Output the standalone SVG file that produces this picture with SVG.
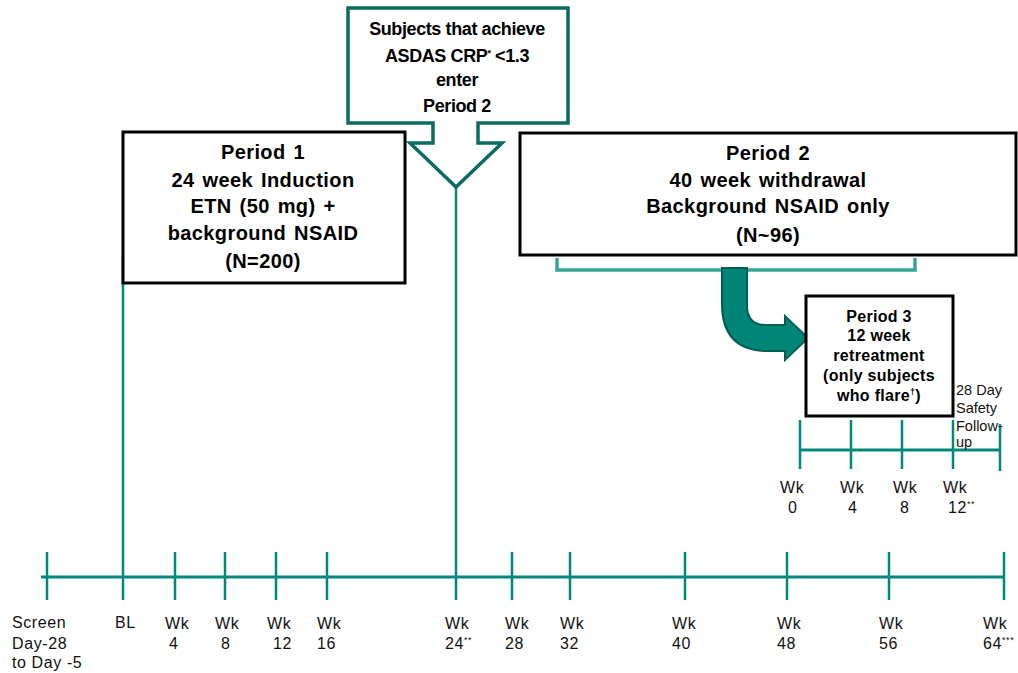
<svg xmlns="http://www.w3.org/2000/svg" width="1018" height="673" viewBox="0 0 1018 673">
<style>
.bx{fill:#fff;stroke:#000;stroke-width:3}
.bt{font-family:"Liberation Sans",Arial,sans-serif;font-weight:bold;fill:#000;text-anchor:middle}
.big{font-size:20px;letter-spacing:0.4px;word-spacing:2px}
.mid{font-size:18px;letter-spacing:-0.4px}
.sm{font-size:16px;letter-spacing:0.3px}
.lb{font-family:"Liberation Sans",Arial,sans-serif;font-size:16px;fill:#111;letter-spacing:0.6px}
.fl{font-family:"Liberation Sans",Arial,sans-serif;font-size:14.5px;fill:#111}
.ax{stroke:#00887A;stroke-width:3;fill:none}
.tk{stroke:#00887A;stroke-width:2.5;fill:none}
.sup{font-size:9px}
</style>
<rect width="1018" height="673" fill="#fff"/>
<g id="connectors">
  <line class="ax" x1="41" y1="577" x2="1005" y2="577"/>
  <g class="tk">
    <line x1="47" y1="552" x2="47" y2="600"/>
    <line x1="123" y1="255" x2="123" y2="600"/>
    <line x1="175" y1="552" x2="175" y2="600"/>
    <line x1="225" y1="552" x2="225" y2="600"/>
    <line x1="276" y1="552" x2="276" y2="600"/>
    <line x1="327" y1="552" x2="327" y2="600"/>
    <line x1="456" y1="186" x2="456" y2="600"/>
    <line x1="512" y1="552" x2="512" y2="600"/>
    <line x1="570" y1="552" x2="570" y2="600"/>
    <line x1="685" y1="552" x2="685" y2="600"/>
    <line x1="787" y1="552" x2="787" y2="600"/>
    <line x1="889" y1="552" x2="889" y2="600"/>
    <line x1="1004" y1="552" x2="1004" y2="600"/>
  </g>
  <line class="ax" x1="800" y1="450" x2="1001" y2="450"/>
  <g class="tk">
    <line x1="800" y1="420" x2="800" y2="469"/>
    <line x1="851" y1="420" x2="851" y2="469"/>
    <line x1="902" y1="420" x2="902" y2="469"/>
    <line x1="953" y1="420" x2="953" y2="469"/>
    <line x1="1000" y1="424" x2="1000" y2="471"/>
  </g>
  <path d="M557 258 L557 270 L915 270 L915 258" fill="none" stroke="#36A596" stroke-width="3.5"/>
  <path d="M722 268 L747 268 L747 306 Q747 325 766 325 L785 325 L785 316 L808 338 L785 360 L785 351 L768 351 Q722 351 722 304 Z" fill="#008577" stroke="#005F55" stroke-width="2"/>
</g>
<g id="callout">
  <path d="M348 8 L568 8 L568 123 L478 123 L478 143 L502 143 L456 187 L410 143 L433 143 L433 123 L348 123 Z" fill="#fff" stroke="#0A6B5F" stroke-width="3.5" stroke-linejoin="miter"/>
  <text class="bt mid" x="457" y="35">Subjects that achieve</text>
  <text class="bt mid" x="457" y="62">ASDAS CRP<tspan class="sup" dy="-6">*</tspan><tspan dy="6"> &lt;1.3</tspan></text>
  <text class="bt mid" x="457" y="86">enter</text>
  <text class="bt mid" x="457" y="112">Period 2</text>
</g>
<g id="period1">
  <rect class="bx" x="123" y="132" width="282" height="151"/>
  <text class="bt big" x="263" y="159">Period 1</text>
  <text class="bt big" x="263" y="187">24 week Induction</text>
  <text class="bt big" x="263" y="213">ETN (50 mg) +</text>
  <text class="bt big" x="263" y="240">background NSAID</text>
  <text class="bt big" x="263" y="268">(N=200)</text>
</g>
<g id="period2">
  <rect class="bx" x="520" y="133" width="496" height="122"/>
  <text class="bt big" x="768" y="160">Period 2</text>
  <text class="bt big" x="768" y="187">40 week withdrawal</text>
  <text class="bt big" x="768" y="213">Background NSAID only</text>
  <text class="bt big" x="768" y="242">(N~96)</text>
</g>
<g id="period3">
  <rect class="bx" x="806" y="296" width="147" height="120" stroke-width="2.5"/>
  <text class="bt sm" x="879" y="322">Period 3</text>
  <text class="bt sm" x="879" y="341">12 week</text>
  <text class="bt sm" x="879" y="361">retreatment</text>
  <text class="bt sm" x="879" y="381">(only subjects</text>
  <text class="bt sm" x="879" y="401">who flare<tspan class="sup" dy="-6">†</tspan><tspan dy="6">)</tspan></text>
</g>
<g id="followup">
  <text class="fl" x="956" y="395">28 Day</text>
  <text class="fl" x="956" y="413">Safety</text>
  <text class="fl" x="956" y="431">Follow-</text>
  <text class="fl" x="956" y="447">up</text>
</g>
<g id="labels">
  <text class="lb" x="12" y="628">Screen</text>
  <text class="lb" x="12" y="649">Day-28</text>
  <text class="lb" x="12" y="668">to Day -5</text>
  <text class="lb" x="115" y="628">BL</text>
  <text class="lb" x="165" y="629">Wk</text><text class="lb" x="169" y="649">4</text>
  <text class="lb" x="215" y="629">Wk</text><text class="lb" x="221" y="649">8</text>
  <text class="lb" x="267" y="629">Wk</text><text class="lb" x="273" y="649">12</text>
  <text class="lb" x="317" y="629">Wk</text><text class="lb" x="317" y="649">16</text>
  <text class="lb" x="445" y="629">Wk</text><text class="lb" x="445" y="649">24<tspan class="sup" dy="-6">**</tspan></text>
  <text class="lb" x="505" y="629">Wk</text><text class="lb" x="505" y="649">28</text>
  <text class="lb" x="560" y="629">Wk</text><text class="lb" x="560" y="649">32</text>
  <text class="lb" x="672" y="629">Wk</text><text class="lb" x="672" y="649">40</text>
  <text class="lb" x="777" y="629">Wk</text><text class="lb" x="777" y="649">48</text>
  <text class="lb" x="879" y="629">Wk</text><text class="lb" x="879" y="649">56</text>
  <text class="lb" x="983" y="629">Wk</text><text class="lb" x="983" y="649">64<tspan class="sup" dy="-6">***</tspan></text>
  <text class="lb" x="780" y="493">Wk</text><text class="lb" x="788" y="513">0</text>
  <text class="lb" x="840" y="493">Wk</text><text class="lb" x="848" y="513">4</text>
  <text class="lb" x="893" y="493">Wk</text><text class="lb" x="900" y="513">8</text>
  <text class="lb" x="943" y="493">Wk</text><text class="lb" x="948" y="513">12<tspan class="sup" dy="-6">**</tspan></text>
</g>
</svg>
